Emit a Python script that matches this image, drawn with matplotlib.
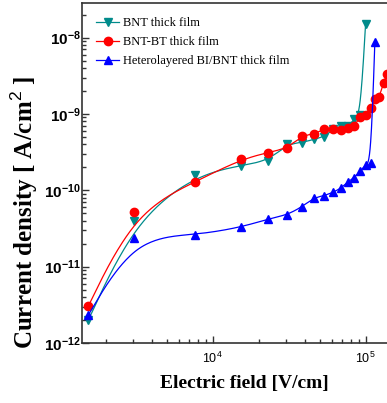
import numpy as np
import matplotlib
matplotlib.use('Agg')
import matplotlib.pyplot as plt
from matplotlib.ticker import LogLocator, FixedLocator, FuncFormatter, NullFormatter

plt.rcParams.update({
    'mathtext.fontset': 'custom',
    'mathtext.rm': 'Liberation Sans',
    'mathtext.bf': 'Liberation Sans:bold',
})

# electric field (V/cm) for each bias step
field = [1.54e3, 3.08e3, 7.69e3, 1.54e4, 2.31e4, 3.08e4, 3.85e4, 4.62e4, 5.38e4,
         6.15e4, 6.92e4, 7.69e4, 8.46e4, 9.23e4, 1.0e5, 1.08e5, 1.15e5, 1.23e5,
         1.31e5, 1.38e5]

# current density (A/cm^2)
j_bnt = [2.0e-12, 3.97e-11, 1.59e-10, 2.11e-10, 2.43e-10, 4.06e-10, 4.22e-10,
         4.67e-10, 5.06e-10, 6.32e-10, 6.98e-10, 6.98e-10, 8.55e-10, 9.73e-10,
         1.52e-8]
j_bnt_bt = [3.05e-12, 5.16e-11, 1.30e-10, 2.56e-10, 3.12e-10, 3.56e-10, 5.21e-10,
            5.48e-10, 6.38e-10, 6.33e-10, 6.19e-10, 6.51e-10, 7.05e-10, 9.25e-10,
            9.6e-10, 1.21e-9, 1.55e-9, 1.65e-9, 2.58e-9, 3.36e-9]
j_hetero = [2.33e-12, 2.4e-11, 2.58e-11, 3.28e-11, 4.22e-11, 4.76e-11, 6.11e-11,
            8.02e-11, 8.52e-11, 9.44e-11, 1.07e-10, 1.30e-10, 1.47e-10, 1.80e-10,
            2.15e-10, 2.26e-10, 8.9e-9]

xticks = [1e4, 1e5]
yticks = [1e-12, 1e-11, 1e-10, 1e-9, 1e-8]

labels = ['BNT thick film', 'BNT-BT thick film', 'Heterolayered BI/BNT thick film']
colors = ['#008b8b', '#ff0000', '#0000ff']
markers = ['v', 'o', '^']
msizes = [5.5, 6, 5.5]


def bspline(x, y, k=40):
    # clamped cubic B-spline in log-log space, data points as control points
    p = np.column_stack([np.log10(x), np.log10(y)])
    p = np.vstack([p[0], p[0], p, p[-1], p[-1]])
    t = np.linspace(0, 1, k)[:, None]
    b = [(1 - t) ** 3 / 6, (3 * t ** 3 - 6 * t ** 2 + 4) / 6,
         (-3 * t ** 3 + 3 * t ** 2 + 3 * t + 1) / 6, t ** 3 / 6]
    out = [b[0] * p[i] + b[1] * p[i + 1] + b[2] * p[i + 2] + b[3] * p[i + 3]
           for i in range(len(p) - 3)]
    out = np.vstack(out)
    return 10 ** out[:, 0], 10 ** out[:, 1]


fig = plt.figure(figsize=(3.87, 4.03), dpi=100)
ax = fig.add_axes([0.212, 0.149, 0.809, 0.844])

for ys, lab, c, m, ms in zip([j_bnt, j_bnt_bt, j_hetero], labels, colors, markers, msizes):
    xs = field[:len(ys)]
    cx, cy = bspline(xs, ys)
    ax.plot(cx, cy, color=c, lw=0.9)
    ax.plot(xs, ys, ls='none', marker=m, color=c, ms=ms)
    ax.plot([], [], color=c, lw=0.9, marker=m, ms=ms, label=lab)

ax.set_xscale('log')
ax.set_yscale('log')
ax.set_xlim(1400, 1.56e5)
ax.set_ylim(1e-12, 2.86e-8)

ax.xaxis.set_major_locator(FixedLocator(xticks))
ax.yaxis.set_major_locator(FixedLocator(yticks))
ax.xaxis.set_minor_locator(LogLocator(base=10, subs=np.arange(2, 10), numticks=20))
ax.yaxis.set_minor_locator(LogLocator(base=10, subs=np.arange(2, 10), numticks=20))
ax.xaxis.set_major_formatter(FuncFormatter(lambda v, p: r'$\mathrm{10^{%d}}$' % round(np.log10(v))))
ax.yaxis.set_major_formatter(FuncFormatter(lambda v, p: r'$\mathbf{10^{%d}}$' % round(np.log10(v))))
ax.xaxis.set_minor_formatter(NullFormatter())
ax.yaxis.set_minor_formatter(NullFormatter())

ax.tick_params(which='both', direction='in', color='#333333', width=1.0)
ax.tick_params(which='major', length=5)
ax.tick_params(which='minor', length=3)
ax.tick_params(axis='x', labelsize=9, pad=6)
ax.tick_params(axis='y', labelsize=11, pad=1)
for s in ax.spines.values():
    s.set_color('#333333')
    s.set_linewidth(1.2)

ax.set_xlabel('Electric field [V/cm]', family='Liberation Serif', fontweight='bold', fontsize=14)
ax.set_ylabel('Current density [ A/cm$^{2}$ ]', family='Liberation Serif', fontweight='bold', fontsize=18)
ax.xaxis.set_label_coords(0.518, -0.094)
ax.yaxis.set_label_coords(-0.135, 0.385)

ax.legend(loc='upper left', bbox_to_anchor=(0.01, 0.99), frameon=False,
          prop={'family': 'Liberation Serif', 'size': 9},
          handlelength=1.8, handletextpad=0.3, labelspacing=0.55)

fig.savefig('out.png', dpi=100)
